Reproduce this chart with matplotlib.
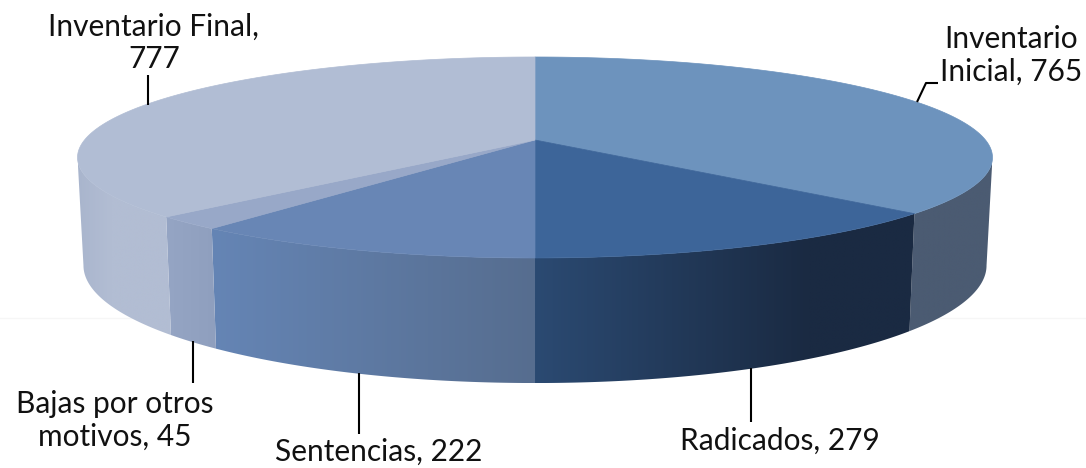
import numpy as np
import matplotlib
matplotlib.use("Agg")
import matplotlib.pyplot as plt
from matplotlib.patches import Polygon
from matplotlib.colors import to_rgb

categories = ["Inventario Inicial", "Radicados", "Sentencias", "Bajas por otros motivos", "Inventario Final"]
values = [765, 279, 222, 45, 777]
label_texts = ["Inventario\nInicial, 765", "Radicados, 279", "Sentencias, 222", "Bajas por otros\nmotivos, 45", "Inventario Final,\n777"]

top_colors = ["#6d93bd", "#3d6599", "#6886b5", "#98a8c8", "#b1bdd4"]
# side colours, left end and right end of each slice
side_left = ["#4b5b72", "#2b4a72", "#6585b5", "#95a5c4", "#a9b5cd"]
side_right = ["#4b5b72", "#1a2a42", "#566d8f", "#8f9fbe", "#b2bdd3"]
# share of the slice width where the gradient is finished
side_stop = [1.0, 0.72, 1.0, 1.0, 0.35]

# perspective of the disc, in pixels
cx = 535
k = 0.174
bx = 450.5
ay = 97.45
top_apex = 140
bot_apex = 245
bot_sx = 0.987
bot_sy = 1.17


def project(theta, apex, sx=1.0, sy=1.0):
    x = np.sin(theta)
    y = np.cos(theta)
    d = 1 + k * y
    return cx + sx * bx * x / d, apex - sy * ay * y / d


fig = plt.figure(figsize=(10.86, 4.68), dpi=100)
ax = fig.add_axes([0, 0, 1, 1])

# faint line behind the pie
ax.plot([0, 1086], [318, 318], color="#f6f6f6", lw=1, zorder=0)

total = sum(values)
edges = np.cumsum([0] + values) / total * 2 * np.pi

# the side is only seen between the two widest points of the disc
widest = np.arccos(-k)

for i in range(len(values)):
    a0 = max(edges[i], widest)
    a1 = min(edges[i + 1], 2 * np.pi - widest)
    if a1 <= a0:
        continue
    t = np.linspace(a0, a1, 200)
    xt, yt = project(t, top_apex)
    xb, yb = project(t, bot_apex, bot_sx, bot_sy)
    x_min, x_max = min(xt.min(), xb.min()), max(xt.max(), xb.max())
    y_min, y_max = min(yt.min(), yb.min()), max(yt.max(), yb.max())
    # horizontal gradient, clipped to the outline of the side
    f = np.clip(np.linspace(0, 1, 256) / side_stop[i], 0, 1)[:, None]
    grad = (np.array(to_rgb(side_left[i])) * (1 - f) + np.array(to_rgb(side_right[i])) * f)[None, :, :]
    outline = Polygon(list(zip(xt, yt)) + list(zip(xb[::-1], yb[::-1])), closed=True,
                      facecolor="none", edgecolor="none", transform=ax.transData)
    ax.add_patch(outline)
    im = ax.imshow(grad, extent=[x_min, x_max, y_max, y_min], aspect="auto", zorder=2,
                   interpolation="bilinear")
    im.set_clip_path(outline)

for i in range(len(values)):
    t = np.linspace(edges[i], edges[i + 1], 200)
    xt, yt = project(t, top_apex)
    pts = [(cx, top_apex)] + list(zip(xt, yt))
    ax.add_patch(Polygon(pts, closed=True, facecolor=top_colors[i], edgecolor=top_colors[i], lw=0.5, zorder=3))

# leader lines
leaders = [
    ([917, 926, 938], [102, 83, 83]),
    ([751, 751], [368, 422]),
    ([359, 359], [373, 434]),
    ([193, 193], [341, 383]),
    ([148, 148], [75, 105]),
]
for lx, ly in leaders:
    ax.plot(lx, ly, color="black", lw=1.5, zorder=4, solid_capstyle="butt")

label_pos = [(1011, 55), (780, 441), (379, 452), (115, 420), (154, 43)]
for txt, (x, y) in zip(label_texts, label_pos):
    ax.text(x, y, txt, ha="center", va="center", fontsize=21.5, family="Lato",
            color="#111111", linespacing=1.2, zorder=5)

ax.set_xlim(0, 1086)
ax.set_ylim(468, 0)
ax.axis("off")

fig.savefig("out.png", dpi=100)
